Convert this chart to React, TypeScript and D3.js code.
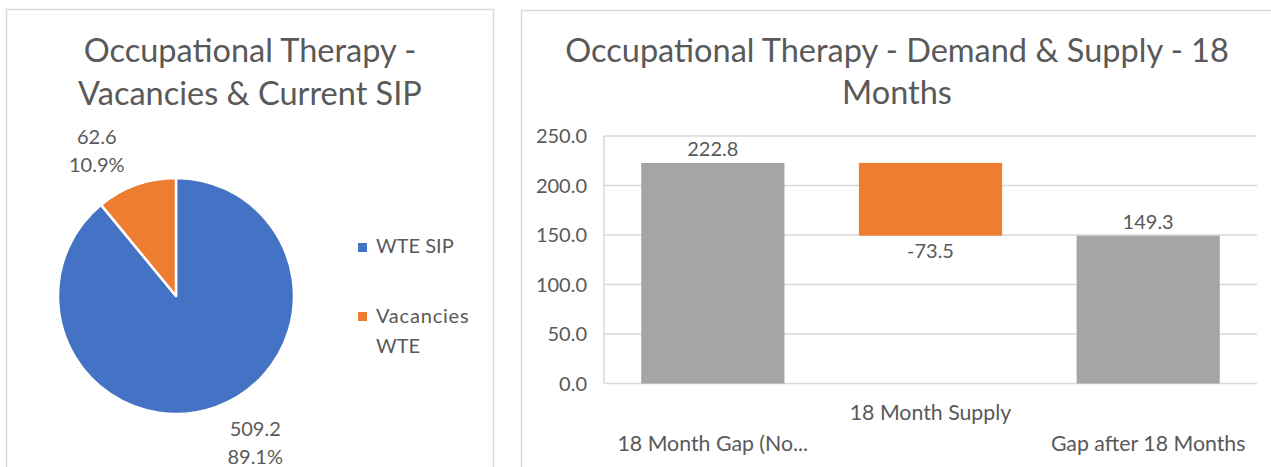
import React from "react";
import * as d3 from "d3";

const pieLabels = ["WTE SIP", "Vacancies WTE"];
const pieValues = [509.2, 62.6];
const pieColors = ["#4472C4", "#ED7D31"];

const wfCategories = ["18 Month Gap (No...", "18 Month Supply", "Gap after 18 Months"];
const wfValues = [222.8, -73.5, 149.3];
const wfKinds = ["total", "delta", "total"];
const yTicks = [0, 50, 100, 150, 200, 250];

const FONT = "Lato, 'Open Sans', sans-serif";
const TXT = "#595959";
const fmt = (v: number) => d3.format(".1f")(v).replace("\u2212", "-");

function PiePanel() {
  const cx = 176, cy = 296, r = 118;
  const total = d3.sum(pieValues);
  const pie = d3.pie<number>().sort(null).value((d) => d)(pieValues);
  const arc = d3.arc<d3.PieArcDatum<number>>().innerRadius(0).outerRadius(r);
  const labelR = 166;
  const offset = (-8.8 * Math.PI) / 180;
  return (
    <g>
      <rect x={6.5} y={9.5} width={487} height={480} fill="#fff" stroke="#D9D9D9" strokeWidth={1.5} />
      <text x={250} y={62} textAnchor="middle" fontSize={32.5} fill={TXT} fontFamily={FONT}>Occupational Therapy -</text>
      <text x={250} y={105} textAnchor="middle" fontSize={32.5} fill={TXT} fontFamily={FONT}>Vacancies &amp; Current SIP</text>
      <g transform={`translate(${cx},${cy})`}>
        {pie.map((p, i) => (
          <path key={i} d={arc(p) || ""} fill={pieColors[i]} stroke="#fff" strokeWidth={2.5} strokeLinejoin="round" />
        ))}
        {pie.map((p, i) => {
          const a = (p.startAngle + p.endAngle) / 2 + offset;
          const x = Math.sin(a) * labelR;
          const y = -Math.cos(a) * labelR;
          return (
            <g key={i} fontFamily={FONT} fontSize={20} fill={TXT} textAnchor="middle">
              <text x={x} y={y - 6}>{fmt(p.data)}</text>
              <text x={x} y={y + 22}>{d3.format(".1%")(p.data / total)}</text>
            </g>
          );
        })}
      </g>
      <g fontFamily={FONT} fontSize={20} fill={TXT}>
        <rect x={358} y={243} width={9} height={9} fill={pieColors[0]} />
        <text x={376} y={253}>{pieLabels[0]}</text>
        <rect x={358} y={312} width={9} height={9} fill={pieColors[1]} />
        <text x={376} y={323} letterSpacing={0.8}>{pieLabels[1].split(" ")[0]}</text>
        <text x={376} y={353}>{pieLabels[1].split(" ")[1]}</text>
      </g>
    </g>
  );
}

function WaterfallPanel() {
  const left = 604, right = 1257, top = 136, bottom = 383.5;
  const x = d3.scaleBand<string>().domain(wfCategories).range([left, right]).paddingInner(0.342).paddingOuter(0.171);
  const y = d3.scaleLinear().domain([0, 250]).range([bottom, top]);
  let running = 0;
  const bars = wfValues.map((v, i) => {
    let y0: number, y1: number;
    if (wfKinds[i] === "total") {
      y0 = 0; y1 = v; running = v;
    } else {
      y0 = running; y1 = running + v; running = running + v;
    }
    return { cat: wfCategories[i], v, lo: Math.min(y0, y1), hi: Math.max(y0, y1), kind: wfKinds[i] };
  });
  return (
    <g>
      <rect x={521.5} y={10.5} width={760} height={480} fill="#fff" stroke="#D9D9D9" strokeWidth={1.5} />
      <text x={897} y={62} textAnchor="middle" fontSize={32.5} fill={TXT} fontFamily={FONT}>Occupational Therapy - Demand &amp; Supply - 18</text>
      <text x={897} y={104} textAnchor="middle" fontSize={32.5} fill={TXT} fontFamily={FONT}>Months</text>
      {yTicks.map((t) => (
        <g key={t}>
          <line x1={left} x2={right} y1={y(t)} y2={y(t)} stroke="#D9D9D9" strokeWidth={1.5} />
          <text x={587} y={y(t) + 7} textAnchor="end" fontSize={20} fill={TXT} fontFamily={FONT}>{fmt(t)}</text>
        </g>
      ))}
      <line x1={left} x2={left} y1={top} y2={bottom} stroke="#D9D9D9" strokeWidth={1.5} />
      {bars.map((b, i) => (
        <rect key={i} x={x(b.cat)} width={x.bandwidth()} y={y(b.hi)} height={y(b.lo) - y(b.hi)}
          fill={b.kind === "total" ? "#A5A5A5" : "#ED7D31"} />
      ))}
      {bars.map((b, i) => {
        const cxp = (x(b.cat) || 0) + x.bandwidth() / 2;
        const ly = b.v < 0 ? y(b.lo) + 22 : y(b.hi) - 7;
        return (
          <text key={i} x={cxp} y={ly} textAnchor="middle" fontSize={20} fill={TXT} fontFamily={FONT}>{fmt(b.v)}</text>
        );
      })}
      {wfCategories.map((c, i) => (
        <text key={c} x={(x(c) || 0) + x.bandwidth() / 2} y={i % 2 === 1 ? 420 : 451} textAnchor="middle"
          fontSize={21.3} fill={TXT} fontFamily={FONT}>{c}</text>
      ))}
    </g>
  );
}

export default function App() {
  return (
    <svg width={1271} height={467} style={{ position: "absolute", left: 0, top: 0, background: "#fff" }}>
      <rect x={0} y={0} width={1271} height={467} fill="#fff" />
      <PiePanel />
      <WaterfallPanel />
    </svg>
  );
}
